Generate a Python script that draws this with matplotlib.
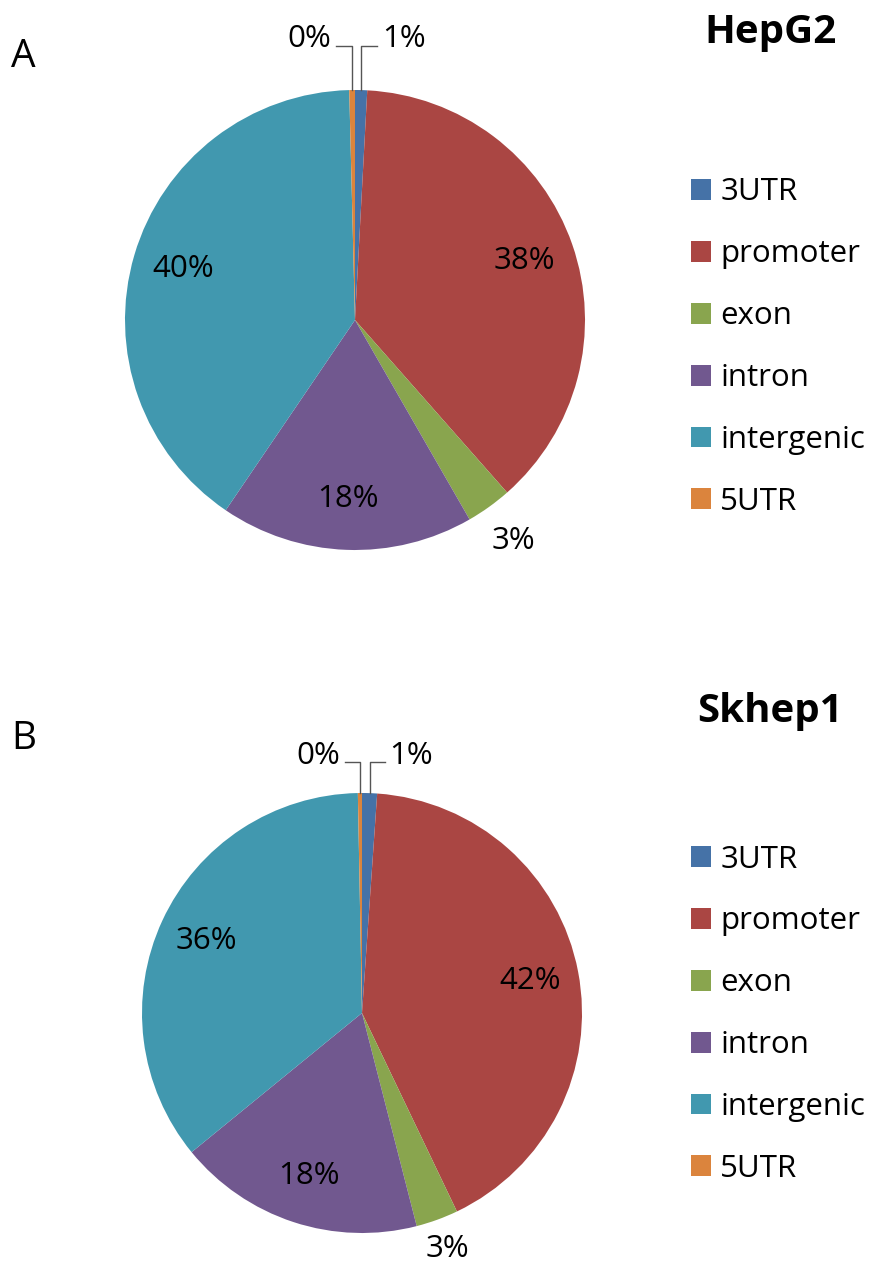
"""Two pie charts of peak distribution over genomic features (HepG2 / Skhep1)."""
import numpy as np
import matplotlib.pyplot as plt

plt.rcParams["font.family"] = ["Open Sans", "DejaVu Sans"]

CATEGORIES = ["3UTR", "promoter", "exon", "intron", "intergenic", "5UTR"]
COLORS = ["#4572A7", "#AA4643", "#89A54E", "#71588F", "#4198AF", "#DB843D"]

HEPG2 = [0.85, 37.65, 3.2, 17.8, 40.1, 0.4]
SKHEP1 = [1.1, 41.8, 3.1, 18.1, 35.6, 0.3]

# figure is 880 x 1268 px; panels given in pixel geometry
W, H = 880, 1268
PANELS = [
    # letter, title, values, centre x, centre y, radius, letter y, title y,
    # legend top, distance of the small outside label
    ("A", "HepG2", HEPG2, 355, 320, 230, 57, 32, 165, 1.18),
    ("B", "Skhep1", SKHEP1, 362, 1013, 220, 739, 712, 832, 1.14),
]
FS = 22.5


def _pct(v):
    return f"{int(round(v))}%"


def draw_panel(fig, letter, title, values, cx, cy, r, ly, ty, leg_top, out_d):
    ax = fig.add_axes([(cx - r) / W, (H - cy - r) / H, 2 * r / W, 2 * r / H])
    wedges, _ = ax.pie(values, colors=COLORS, startangle=90, counterclock=False,
                       wedgeprops=dict(linewidth=0))
    ax.set_xlim(-1, 1)
    ax.set_ylim(-1, 1)
    ax.set_aspect("equal")
    ax.axis("off")

    rise = 1.19 if r > 225 else 1.14
    for w, v in zip(wedges, values):
        mid = np.deg2rad((w.theta1 + w.theta2) / 2)
        x, y = np.cos(mid), np.sin(mid)
        if v >= 10:
            d = 0.78
            ax.text(d * x, d * y, _pct(v), ha="center", va="center", fontsize=FS)
        elif v >= 2:
            ax.text(out_d * x, out_d * y, _pct(v), ha="center", va="center",
                    fontsize=FS)
        else:
            # tiny slices at the top: elbow leader line
            side = 1 if x > 0 else -1
            hx = x + side * 0.07
            ax.plot([x, x, hx], [y, rise, rise], color="#555555", lw=1.0,
                    clip_on=False)
            ax.text(hx + side * 0.02, rise + 0.03, _pct(v),
                    ha="left" if side > 0 else "right", va="center",
                    fontsize=FS)

    fig.text(11 / W, 1 - ly / H, letter, fontsize=28, ha="left", va="center")
    fig.text(770 / W, 1 - ty / H, title, fontsize=29, fontweight="bold",
             ha="center", va="center")
    fig.legend(wedges, CATEGORIES, loc="upper left",
               bbox_to_anchor=(678 / W, 1 - leg_top / H), frameon=False,
               fontsize=FS, handlelength=0.65, handleheight=0.65,
               handletextpad=0.3, labelspacing=1.02, borderaxespad=0)


fig = plt.figure(figsize=(W / 100, H / 100), dpi=100)
for p in PANELS:
    draw_panel(fig, *p)
fig.savefig("out.png", dpi=100)
